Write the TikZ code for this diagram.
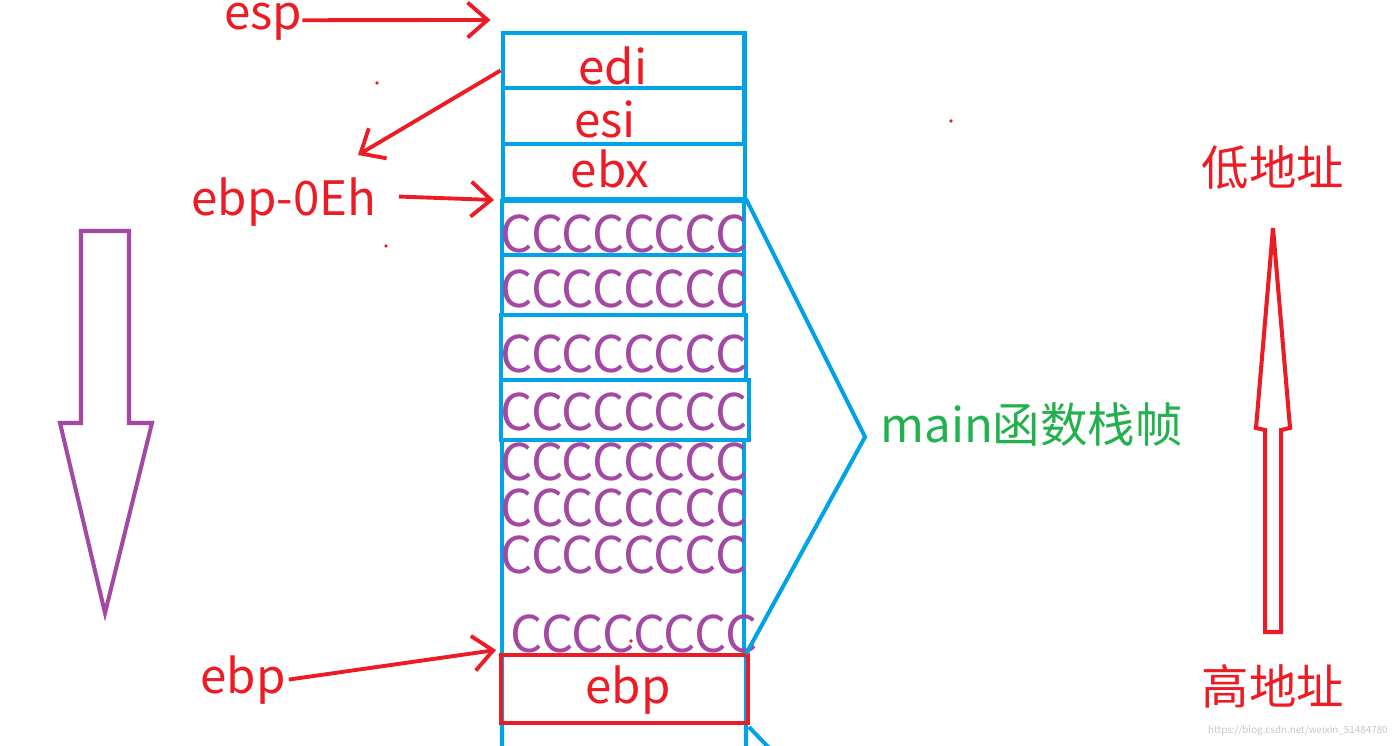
\documentclass[tikz,border=0pt]{standalone}
\usepackage{fontspec}
\setmainfont{Noto Sans CJK SC}
\usetikzlibrary{positioning, arrows.meta, calc}
\definecolor{paintred}{RGB}{237,28,36}
\definecolor{paintblue}{RGB}{0,162,232}
\definecolor{paintpurple}{RGB}{163,73,164}
\definecolor{paintgreen}{RGB}{34,177,76}

\begin{document}
\begin{tikzpicture}[
  x=0.02cm, y=-0.02cm,
  every node/.style={font=\fontsize{27}{30}\selectfont, inner sep=0pt},
  cell/.style={draw=paintblue, line width=2.3pt, minimum width=4.84cm},
  reg/.style={text=paintred, anchor=base},
  fill8/.style={text=paintpurple, anchor=base, font=\fontsize{28.8}{30}\selectfont},
  ptr/.style={draw=paintred, line width=2.2pt, -{Straight Barb[length=4mm, width=7mm]}},
  blockarrow/.style={line width=2.3pt, line join=miter}
]
  \useasboundingbox (0,0) rectangle (1395,746);

  % stack cells
  \node[cell, minimum height=1.1cm] (edi) at (623.5,60.5) {};
  \node[cell, minimum height=1.12cm] (esi) at (623.5,116) {};
  \node[cell, minimum height=1.1cm] (ebx) at (624,171.5) {};
  \node[cell, minimum height=1.08cm] (c1) at (623,228) {};
  \node[cell, minimum height=1.2cm] (c2) at (623,285) {};
  \node[cell, minimum height=1.3cm, minimum width=4.9cm] (c3) at (623.5,347.5) {};
  \node[cell, minimum height=1.2cm, minimum width=4.96cm] (c4) at (625,410) {};
  \node[cell, minimum height=4.3cm] (c5) at (623,547.5) {};
  \draw[paintblue, line width=2.3pt]
    ($(c5.south west)+(2,0)$) -- +(0,95)
    ($(c5.south east)+(0,0)$) -- +(0,95)
    ($(c5.south east)+(3,70)$) -- +(24,25);
  \node[cell, draw=paintred, minimum height=1.36cm, minimum width=4.94cm] (ebpbox) at (624.5,689) {};

  \node[reg] (tedi) at (613,85) {edi};
  \node[reg] (tesi) at (605,138) {esi};
  \node[reg] (tebx) at (610,188) {ebx};
  \foreach \y [count=\i] in {253,308,372,430,480,526,573}
    \node[fill8] (fill\i) at (624,\y) {CCCCCCCC};
  \node[fill8] (fill8) at (634,652) {CCCCCCCC};
  \node[reg] (tebp) at (628,703) {ebp};

  % pointers
  \node[reg] (esp) at (263,30) {esp};
  \node[reg] (ebp0eh) at (284,216) {ebp-0Eh};
  \node[reg] (ebp) at (243,693) {ebp};
  \coordinate (away) at (358,155);
  \draw[ptr] ($(esp.east)+(0,-2)$) -- ($(edi.north west)+(-10,-11)$);
  \draw[ptr] ($(edi.west)+(0,10)$) -- (away);
  \draw[ptr] ($(ebp0eh.east)+(22,-6)$) -- ($(c1.north west)+(-6,1)$);
  \draw[ptr] ($(ebp.east)+(3,0)$) -- ($(ebpbox.north west)+(-3,-3)$);

  % frame bracket
  \coordinate (brk) at (865,437);
  \draw[paintblue, line width=2.3pt] (c1.north east) -- (brk) -- ($(c5.south east)+(0,-3)$);
  \node[text=paintgreen, anchor=base west] (frame) at (880,442) {main函数栈帧};

  % direction arrows
  \draw[paintpurple, blockarrow] (81,231) -- (129,231) -- (129,423) -- (152,423)
    -- (105,613) -- (60,423) -- (81,423) -- cycle;
  \draw[paintred, blockarrow] (1265,632) -- (1265,430) -- (1256,428) -- (1273,228)
    -- (1290,428) -- (1281,430) -- (1281,632) -- cycle;
  \node[reg] (low) at (1273,186) {低地址};
  \node[reg] (high) at (1273,704) {高地址};

  \foreach \p in {(377,83),(951,121),(386,246),(631,641)}
    \fill[paintred] \p circle (1.1pt);
  \node[text=gray!45, font=\fontsize{5.6}{7}\selectfont, anchor=base east] (mark) at (1388,733)
    {https://blog.csdn.net/weixin\_51484780};
\end{tikzpicture}
\end{document}
